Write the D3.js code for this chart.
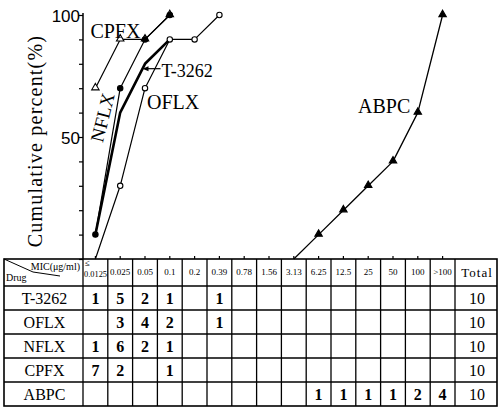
<!DOCTYPE html>
<html>
<head>
<meta charset="utf-8">
<script src="https://cdn.jsdelivr.net/npm/d3@7"></script>
<style>
  body { margin: 0; background: #fff; }
  svg { display: block; }
  text { font-family: "Liberation Serif", "DejaVu Serif", serif; fill: #000; }
</style>
</head>
<body>
<div id="chart"></div>
<script>
'use strict';

// MIC columns (ug/ml)
const micLabels = ['≤0.0125', '0.025', '0.05', '0.1', '0.2', '0.39', '0.78', '1.56', '3.13',
                   '6.25', '12.5', '25', '50', '100', '>100'];
const drugs = ['T-3262', 'OFLX', 'NFLX', 'CPFX', 'ABPC'];

// number of strains per MIC column (table)
const countsT3262 = [1, 5, 2, 1, null, 1, null, null, null, null, null, null, null, null, null];
const countsOFLX  = [null, 3, 4, 2, null, 1, null, null, null, null, null, null, null, null, null];
const countsNFLX  = [1, 6, 2, 1, null, null, null, null, null, null, null, null, null, null, null];
const countsCPFX  = [7, 2, null, 1, null, null, null, null, null, null, null, null, null, null, null];
const countsABPC  = [null, null, null, null, null, null, null, null, null, 1, 1, 1, 1, 2, 4];
const totals      = [10, 10, 10, 10, 10];

// cumulative percent plotted (null = not drawn)
const cumT3262 = [10, 60, 80, 90, 90, 100, null, null, null, null, null, null, null, null, null];
const cumOFLX  = [0, 30, 70, 90, 90, 100, null, null, null, null, null, null, null, null, null];
const cumNFLX  = [10, 70, 90, 100, null, null, null, null, null, null, null, null, null, null, null];
const cumCPFX  = [70, 90, 90, 100, null, null, null, null, null, null, null, null, null, null, null];
const cumABPC  = [null, null, null, null, null, null, null, null, 0, 10, 20, 30, 40, 60, 100];

const yTicks = [0, 10, 20, 30, 40, 50, 60, 70, 80, 90, 100];
const yTickLabels = [50, 100];

// layout
const W = 499, H = 407;
const tableLeft = 4, drugRight = 83, micRight = 455, tableRight = 497;
const tableTop = 259, headerH = 27, rowH = 24;

const svg = d3.select('#chart').append('svg')
  .attr('width', W).attr('height', H);

const x = d3.scaleBand().domain(micLabels).range([drugRight, micRight]).padding(0);
const xc = d => x(d) + x.bandwidth() / 2;
const y = d3.scaleLinear().domain([0, 100]).range([tableTop, 15]);

// ---- axes
const yAxis = svg.append('g')
  .attr('transform', `translate(${drugRight},0)`)
  .call(d3.axisLeft(y).tickValues(yTicks).tickSize(4).tickSizeOuter(0)
    .tickFormat(d => yTickLabels.includes(d) ? d : ''));
yAxis.select('.domain').attr('d', `M0,${y(100) - 2}V${tableTop}`).attr('stroke-width', 1.5);
yAxis.selectAll('.tick line').attr('stroke-width', 1.2);
yAxis.selectAll('.tick text')
  .style('font-family', '"Liberation Sans", Arial, sans-serif')
  .style('font-size', '17px')
  .attr('x', -3)
  .attr('dy', '0.36em');

const xAxis = svg.append('g')
  .attr('transform', `translate(0,${tableTop})`)
  .call(d3.axisTop(x).tickSize(3).tickSizeOuter(0).tickFormat(''));
xAxis.select('.domain').remove();
xAxis.selectAll('.tick line').attr('stroke-width', 1.2);

svg.append('text')
  .attr('transform', `translate(42,141) rotate(-90)`)
  .attr('text-anchor', 'middle')
  .style('font-size', '20px')
  .style('letter-spacing', '1.2px')
  .text('Cumulative percent(%)');

// ---- lines
const series = [
  { name: 'OFLX', cum: cumOFLX, width: 1.2 },
  { name: 'CPFX', cum: cumCPFX, width: 1.2 },
  { name: 'NFLX', cum: cumNFLX, width: 1.2 },
  { name: 'T-3262', cum: cumT3262, width: 2.6 },
  { name: 'ABPC', cum: cumABPC, width: 1.3 }
];

// T-3262 thick line only until it merges with OFLX
let mergeAt = cumT3262.length;
for (let i = 0; i < cumT3262.length; i++) {
  if (cumT3262.slice(i).every((v, j) => v === cumOFLX[i + j])) { mergeAt = i; break; }
}

const line = d3.line()
  .defined(d => d.v !== null)
  .x(d => xc(d.mic))
  .y(d => y(d.v));

series.forEach(s => {
  let pts = s.cum.map((v, i) => ({ mic: micLabels[i], v: v }));
  if (s.name === 'T-3262') pts = pts.map((p, i) => i > mergeAt ? { mic: p.mic, v: null } : p);
  svg.append('path')
    .datum(pts)
    .attr('fill', 'none')
    .attr('stroke', '#000')
    .attr('stroke-width', s.width)
    .attr('stroke-linejoin', 'round')
    .attr('d', line);
});

// ---- markers
const tri = d3.symbol(d3.symbolTriangle, 24)();
function drawMarkers(cum, kind) {
  const pts = cum.map((v, i) => ({ mic: micLabels[i], v: v })).filter(d => d.v !== null && d.v > 0);
  const g = svg.append('g');
  if (kind === 'dot' || kind === 'openCircle') {
    g.selectAll('circle').data(pts).enter().append('circle')
      .attr('cx', d => xc(d.mic)).attr('cy', d => y(d.v)).attr('r', 2.7)
      .attr('fill', kind === 'dot' ? '#000' : '#fff')
      .attr('stroke', '#000').attr('stroke-width', 1.1);
  } else {
    g.selectAll('path').data(pts).enter().append('path')
      .attr('d', tri)
      .attr('transform', d => `translate(${xc(d.mic)},${y(d.v) - 0.5})`)
      .attr('fill', kind === 'triangle' ? '#000' : '#fff')
      .attr('stroke', '#000').attr('stroke-width', 1.1);
  }
}
drawMarkers(cumOFLX, 'openCircle');
drawMarkers(cumCPFX, 'openTriangle');
drawMarkers(cumNFLX, 'dot');
drawMarkers(cumABPC, 'triangle');

// ---- series labels
svg.append('text').attr('x', xc(micLabels[0]) - 5).attr('y', y(91) + 1)
  .style('font-size', '20px').text('CPFX');
svg.append('text')
  .attr('transform', `translate(${xc(micLabels[0]) + 7},${y(58)}) rotate(-76)`)
  .attr('text-anchor', 'middle').attr('dy', '0.35em')
  .style('font-size', '19px').text('NFLX');
svg.append('text').attr('x', xc(micLabels[2]) + 2).attr('y', y(62) + 1)
  .style('font-size', '20px').text('OFLX');
svg.append('text').attr('x', xc(micLabels[7]) + 89).attr('y', y(60))
  .style('font-size', '20px').text('ABPC');

// T-3262 label with arrow to its line
const arrowV = 78;
const tipX = xc(micLabels[1]) + (arrowV - cumT3262[1]) / (cumT3262[2] - cumT3262[1]) * (xc(micLabels[2]) - xc(micLabels[1]));
svg.append('line')
  .attr('x1', tipX + 3).attr('x2', tipX + 18)
  .attr('y1', y(arrowV)).attr('y2', y(arrowV))
  .attr('stroke', '#000').attr('stroke-width', 1.2);
svg.append('path')
  .attr('d', `M${tipX},${y(arrowV)}L${tipX + 6},${y(arrowV) - 2.5}L${tipX + 6},${y(arrowV) + 2.5}Z`)
  .attr('fill', '#000');
svg.append('text').attr('x', tipX + 19).attr('y', y(arrowV) + 8)
  .style('font-size', '18px').text('T-3262');

// ---- table
const tableBottom = tableTop + headerH + rowH * drugs.length;
const tg = svg.append('g').attr('stroke', '#000').attr('fill', 'none');

tg.append('rect')
  .attr('x', tableLeft).attr('y', tableTop)
  .attr('width', tableRight - tableLeft).attr('height', tableBottom - tableTop)
  .attr('stroke-width', 1.6);

const vLines = [drugRight].concat(micLabels.map(m => x(m) + x.bandwidth()));
tg.selectAll('line.v').data(vLines).enter().append('line')
  .attr('x1', d => d).attr('x2', d => d)
  .attr('y1', tableTop).attr('y2', tableBottom)
  .attr('stroke-width', 1.3);

const hLines = drugs.map((d, i) => tableTop + headerH + rowH * i);
tg.selectAll('line.h').data(hLines).enter().append('line')
  .attr('x1', tableLeft).attr('x2', tableRight)
  .attr('y1', d => d).attr('y2', d => d)
  .attr('stroke-width', 1.3);

// header corner cell
tg.append('path')
  .attr('d', `M${tableLeft},${tableTop}L${tableLeft + 29},${tableTop + 13}L${tableLeft + 56},${tableTop + 17}`)
  .attr('stroke-width', 1);
svg.append('text').attr('x', drugRight - 3).attr('y', tableTop + 11)
  .attr('text-anchor', 'end').style('font-size', '10px').text('MIC(μg/ml)');
svg.append('text').attr('x', tableLeft + 2).attr('y', tableTop + 22)
  .style('font-size', '10px').text('Drug');

// MIC header labels
micLabels.forEach((m, i) => {
  if (i === 0) {
    svg.append('text').attr('x', x(m) + 2).attr('y', tableTop + 7)
      .style('font-size', '9px').text('≤');
    svg.append('text').attr('x', x(m) + 1).attr('y', tableTop + 18)
      .attr('textLength', 23).attr('lengthAdjust', 'spacingAndGlyphs')
      .style('font-size', '9px').text(m.slice(1));
  } else {
    svg.append('text').attr('x', xc(m)).attr('y', tableTop + 16)
      .attr('text-anchor', 'middle').style('font-size', '9px').text(m);
  }
});
svg.append('text').attr('x', (micRight + tableRight) / 2 + 1).attr('y', tableTop + 18)
  .attr('text-anchor', 'middle').style('font-size', '13px').style('letter-spacing', '1px')
  .text('Total');

// drug rows
const counts = [countsT3262, countsOFLX, countsNFLX, countsCPFX, countsABPC];
drugs.forEach((d, r) => {
  const cy = tableTop + headerH + rowH * r + rowH / 2;
  svg.append('text').attr('x', (tableLeft + drugRight) / 2 + 1).attr('y', cy)
    .attr('dy', '0.35em').attr('text-anchor', 'middle')
    .style('font-size', '16px').text(d);
  counts[r].forEach((c, i) => {
    if (c === null) return;
    svg.append('text').attr('x', xc(micLabels[i])).attr('y', cy)
      .attr('dy', '0.35em').attr('text-anchor', 'middle')
      .style('font-size', '16px').style('font-weight', 'bold').text(c);
  });
  svg.append('text').attr('x', (micRight + tableRight) / 2 + 1).attr('y', cy)
    .attr('dy', '0.35em').attr('text-anchor', 'middle')
    .style('font-size', '16px').text(totals[r]);
});
</script>
</body>
</html>
